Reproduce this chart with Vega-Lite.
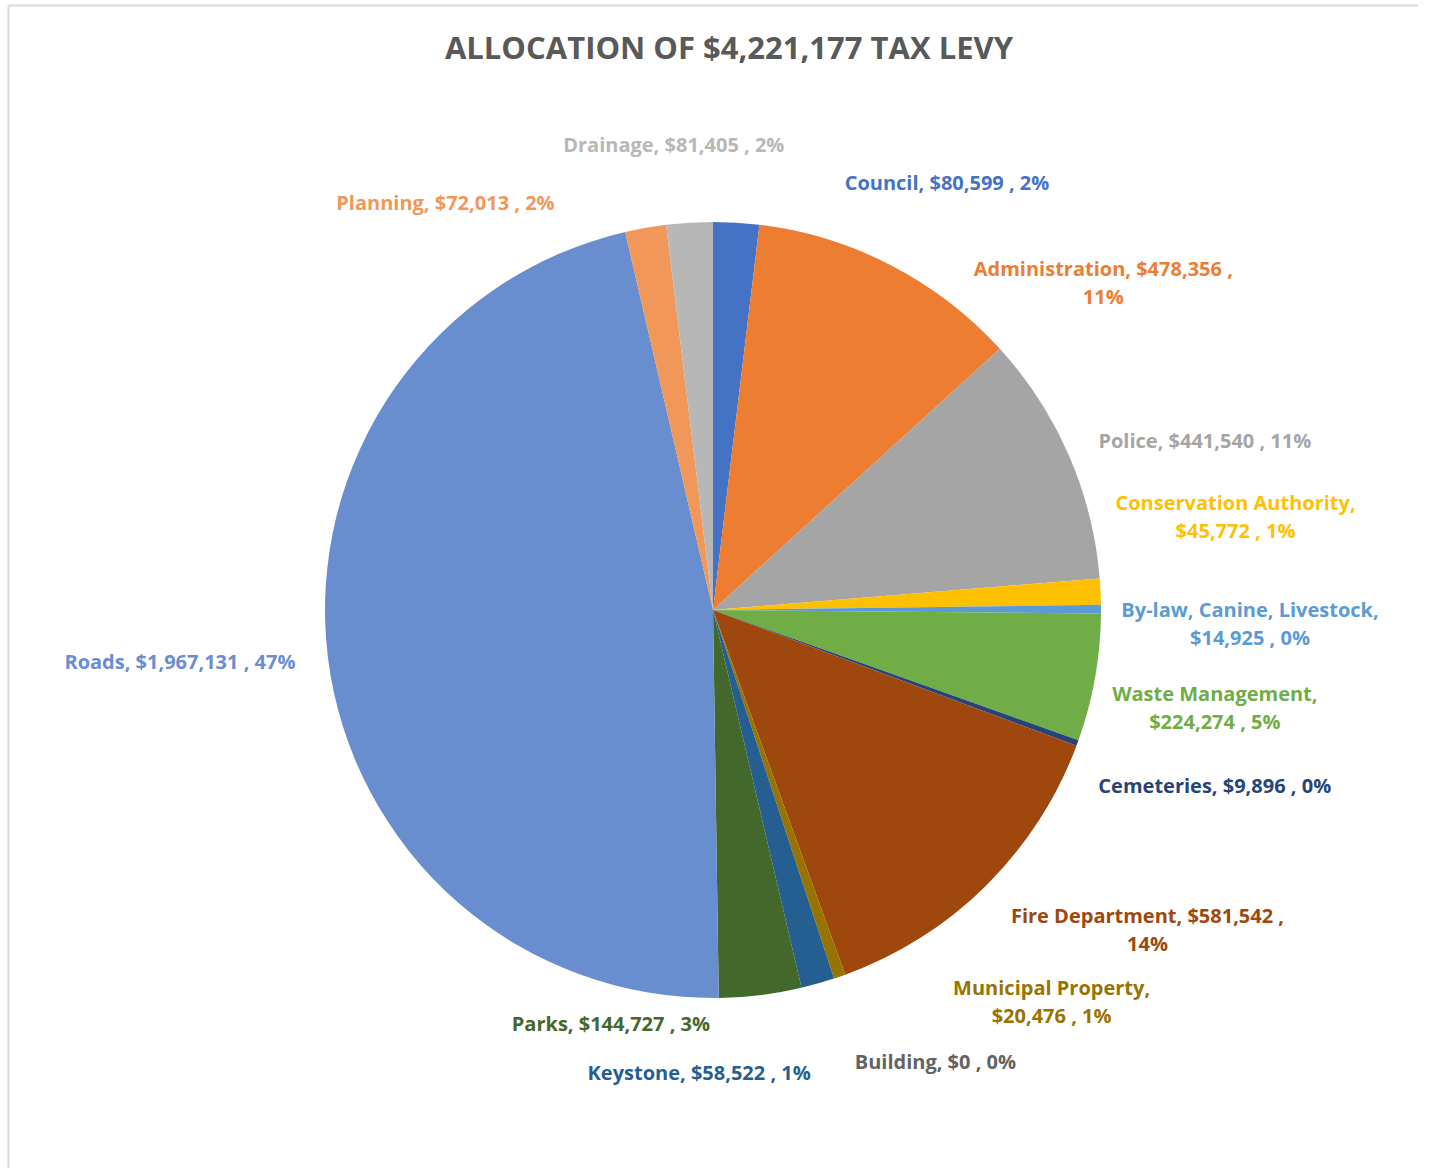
{
  "$schema": "https://vega.github.io/schema/vega-lite/v6.json",
  "width": 1410,
  "height": 1210,
  "autosize": {"type": "none"},
  "padding": {"left": 8, "top": 5, "right": 0, "bottom": 0},
  "background": "white",
  "config": {"view": {"stroke": null}},
  "title": {
    "text": "ALLOCATION  OF $4,221,177 TAX LEVY",
    "font": "Open Sans",
    "fontSize": 31,
    "fontWeight": "bold",
    "color": "#595959",
    "anchor": "middle",
    "dx": 16,
    "offset": -76,
    "baseline": "middle"
  },
  "data": {
    "values": [
      {"name": "Council", "value": 80599, "ord": 1, "label": "Council, $80,599 , 2%"},
      {"name": "Administration", "value": 478356, "ord": 2, "label": "Administration, $478,356 ,\n11%"},
      {"name": "Police", "value": 441540, "ord": 3, "label": "Police, $441,540 , 11%"},
      {"name": "Conservation Authority", "value": 45772, "ord": 4, "label": "Conservation Authority,\n$45,772 , 1%"},
      {"name": "By-law, Canine, Livestock", "value": 14925, "ord": 5, "label": "By-law, Canine, Livestock,\n$14,925 , 0%"},
      {"name": "Waste Management", "value": 224274, "ord": 6, "label": "Waste Management,\n$224,274 , 5%"},
      {"name": "Cemeteries", "value": 9896, "ord": 7, "label": "Cemeteries, $9,896 , 0%"},
      {"name": "Fire Department", "value": 581542, "ord": 8, "label": "Fire Department, $581,542 ,\n14%"},
      {"name": "Building", "value": 0, "ord": 9, "label": "Building, $0 , 0%"},
      {"name": "Municipal Property", "value": 20476, "ord": 10, "label": "Municipal Property,\n$20,476 , 1%"},
      {"name": "Keystone", "value": 58522, "ord": 11, "label": "Keystone, $58,522 , 1%"},
      {"name": "Parks", "value": 144727, "ord": 12, "label": "Parks, $144,727 , 3%"},
      {"name": "Roads", "value": 1967131, "ord": 13, "label": "Roads, $1,967,131 , 47%"},
      {"name": "Planning", "value": 72013, "ord": 14, "label": "Planning, $72,013 , 2%"},
      {"name": "Drainage", "value": 81405, "ord": 15, "label": "Drainage, $81,405 , 2%"}
    ]
  },
  "layer": [
    {
      "mark": {"type": "point", "opacity": 0},
      "encoding": {
        "x": {"field": "value", "type": "quantitative", "axis": {"orient": "top", "domainColor": "#D9D9D9", "domainWidth": 2, "ticks": false, "labels": false, "title": null, "grid": false}},
        "y": {"field": "name", "type": "nominal", "axis": {"orient": "left", "domainColor": "#D9D9D9", "domainWidth": 2, "ticks": false, "labels": false, "title": null, "grid": false}}
      }
    },
    {
      "encoding": {
        "theta": {"field": "value", "type": "quantitative", "stack": true},
        "order": {"field": "ord", "type": "quantitative"},
        "color": {
          "field": "name",
          "type": "nominal",
          "legend": null,
          "scale": {
            "domain": ["Council", "Administration", "Police", "Conservation Authority", "By-law, Canine, Livestock", "Waste Management", "Cemeteries", "Fire Department", "Building", "Municipal Property", "Keystone", "Parks", "Roads", "Planning", "Drainage"],
            "range": ["#4472C4", "#ED7D31", "#A5A5A5", "#FFC000", "#5B9BD5", "#70AD47", "#264478", "#9E480E", "#636363", "#997300", "#255E91", "#43682B", "#698ED0", "#F1975A", "#B7B7B7"]
          }
        }
      },
      "layer": [
        {"mark": {"type": "arc", "outerRadius": 388}},
        {"mark": {"type": "text", "radius": 400, "dx": 210, "dy": -27, "font": "Open Sans", "fontWeight": "bold", "fontSize": 20, "lineBreak": "\n", "lineHeight": 28, "align": "center", "baseline": "middle"},
         "encoding": {"text": {"condition": {"test": "datum.name === 'Council'", "field": "label"}, "value": ""}}},
        {"mark": {"type": "text", "radius": 400, "dx": 207, "dy": 16, "font": "Open Sans", "fontWeight": "bold", "fontSize": 20, "lineBreak": "\n", "lineHeight": 28, "align": "center", "baseline": "middle"},
         "encoding": {"text": {"condition": {"test": "datum.name === 'Administration'", "field": "label"}, "value": ""}}},
        {"mark": {"type": "text", "radius": 400, "dx": 125, "dy": -8, "font": "Open Sans", "fontWeight": "bold", "fontSize": 20, "lineBreak": "\n", "lineHeight": 28, "align": "center", "baseline": "middle"},
         "encoding": {"text": {"condition": {"test": "datum.name === 'Police'", "field": "label"}, "value": ""}}},
        {"mark": {"type": "text", "radius": 400, "dx": 123, "dy": -87, "font": "Open Sans", "fontWeight": "bold", "fontSize": 20, "lineBreak": "\n", "lineHeight": 28, "align": "center", "baseline": "middle"},
         "encoding": {"text": {"condition": {"test": "datum.name === 'Conservation Authority'", "field": "label"}, "value": ""}}},
        {"mark": {"type": "text", "radius": 400, "dx": 137, "dy": 2, "font": "Open Sans", "fontWeight": "bold", "fontSize": 20, "lineBreak": "\n", "lineHeight": 28, "align": "center", "baseline": "middle"},
         "encoding": {"text": {"condition": {"test": "datum.name === 'By-law, Canine, Livestock'", "field": "label"}, "value": ""}}},
        {"mark": {"type": "text", "radius": 400, "dx": 108, "dy": 15, "font": "Open Sans", "fontWeight": "bold", "fontSize": 20, "lineBreak": "\n", "lineHeight": 28, "align": "center", "baseline": "middle"},
         "encoding": {"text": {"condition": {"test": "datum.name === 'Waste Management'", "field": "label"}, "value": ""}}},
        {"mark": {"type": "text", "radius": 400, "dx": 126, "dy": 40, "font": "Open Sans", "fontWeight": "bold", "fontSize": 20, "lineBreak": "\n", "lineHeight": 28, "align": "center", "baseline": "middle"},
         "encoding": {"text": {"condition": {"test": "datum.name === 'Cemeteries'", "field": "label"}, "value": ""}}},
        {"mark": {"type": "text", "radius": 400, "dx": 153, "dy": 23, "font": "Open Sans", "fontWeight": "bold", "fontSize": 20, "lineBreak": "\n", "lineHeight": 28, "align": "center", "baseline": "middle"},
         "encoding": {"text": {"condition": {"test": "datum.name === 'Fire Department'", "field": "label"}, "value": ""}}},
        {"mark": {"type": "text", "radius": 400, "dx": 86, "dy": 77, "font": "Open Sans", "fontWeight": "bold", "fontSize": 20, "lineBreak": "\n", "lineHeight": 28, "align": "center", "baseline": "middle"},
         "encoding": {"text": {"condition": {"test": "datum.name === 'Building'", "field": "label"}, "value": ""}}},
        {"mark": {"type": "text", "radius": 400, "dx": 208, "dy": 1, "font": "Open Sans", "fontWeight": "bold", "fontSize": 20, "lineBreak": "\n", "lineHeight": 28, "align": "center", "baseline": "middle"},
         "encoding": {"text": {"condition": {"test": "datum.name === 'Municipal Property'", "field": "label"}, "value": ""}}},
        {"mark": {"type": "text", "radius": 400, "dx": -122, "dy": 79, "font": "Open Sans", "fontWeight": "bold", "fontSize": 20, "lineBreak": "\n", "lineHeight": 28, "align": "center", "baseline": "middle"},
         "encoding": {"text": {"condition": {"test": "datum.name === 'Keystone'", "field": "label"}, "value": ""}}},
        {"mark": {"type": "text", "radius": 400, "dx": -151, "dy": 18, "font": "Open Sans", "fontWeight": "bold", "fontSize": 20, "lineBreak": "\n", "lineHeight": 28, "align": "center", "baseline": "middle"},
         "encoding": {"text": {"condition": {"test": "datum.name === 'Parks'", "field": "label"}, "value": ""}}},
        {"mark": {"type": "text", "radius": 400, "dx": -136, "dy": 4, "font": "Open Sans", "fontWeight": "bold", "fontSize": 20, "lineBreak": "\n", "lineHeight": 28, "align": "center", "baseline": "middle"},
         "encoding": {"text": {"condition": {"test": "datum.name === 'Roads'", "field": "label"}, "value": ""}}},
        {"mark": {"type": "text", "radius": 400, "dx": -198, "dy": -12, "font": "Open Sans", "fontWeight": "bold", "fontSize": 20, "lineBreak": "\n", "lineHeight": 28, "align": "center", "baseline": "middle"},
         "encoding": {"text": {"condition": {"test": "datum.name === 'Planning'", "field": "label"}, "value": ""}}},
        {"mark": {"type": "text", "radius": 400, "dx": -15, "dy": -65, "font": "Open Sans", "fontWeight": "bold", "fontSize": 20, "lineBreak": "\n", "lineHeight": 28, "align": "center", "baseline": "middle"},
         "encoding": {"text": {"condition": {"test": "datum.name === 'Drainage'", "field": "label"}, "value": ""}}}
      ]
    }
  ]
}
